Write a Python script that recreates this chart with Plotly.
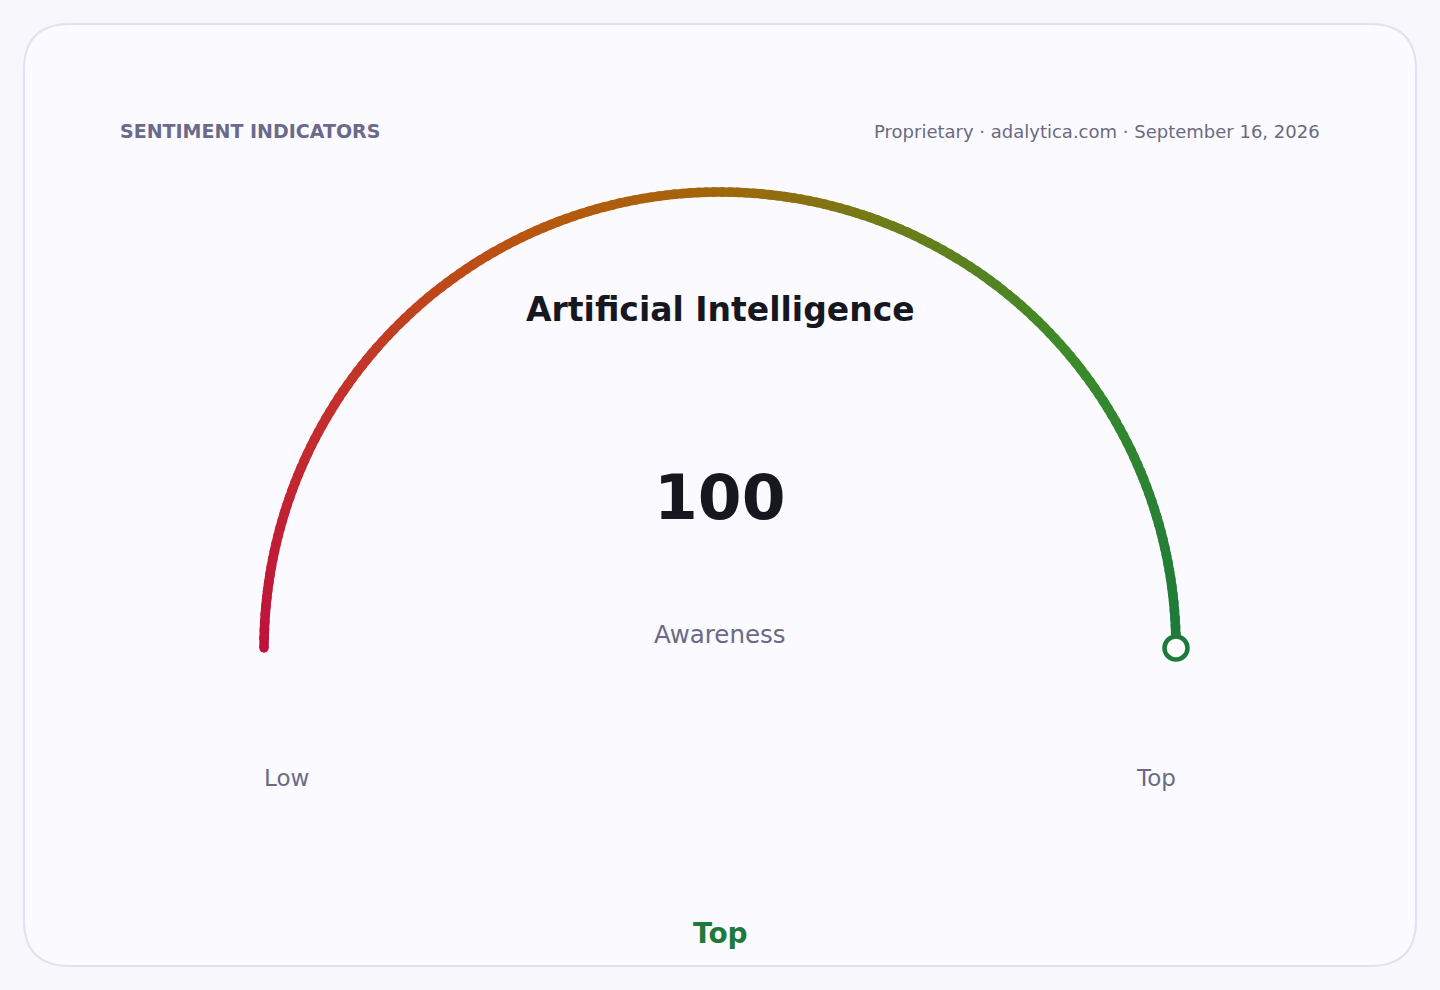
import numpy as np
import plotly.graph_objects as go

# Gauge data
title = 'Artificial Intelligence'
metric = 'Awareness'
value = 100
scale_min = 0
scale_max = 100
min_label = 'Low'
max_label = 'Top'
status = 'Top'
header_left = 'SENTIMENT INDICATORS'
header_right = 'Proprietary · adalytica.com · September 16, 2026'

# Gradient stops along the arc (fraction, colour)
grad_pos = [0.0, 0.18, 0.36, 0.5, 0.62, 0.78, 1.0]
grad_col = ['#be123c', '#c4302c', '#b9560f', '#a2660b', '#6e7c19', '#3b8a2a', '#1b7a3b']

W, H = 1440, 990
cx, cy, R = 720, 648, 456
FONT = 'DejaVu Sans'


def hex_rgb(h):
    h = h.lstrip('#')
    return np.array([int(h[i:i + 2], 16) for i in (0, 2, 4)], dtype=float)


def grad_at(t):
    rgbs = np.array([hex_rgb(c) for c in grad_col])
    r = [np.interp(t, grad_pos, rgbs[:, k]) for k in range(3)]
    return 'rgb(%d,%d,%d)' % tuple(int(round(v)) for v in r)


def to_xy(v):
    th = np.pi * (1 - (v - scale_min) / (scale_max - scale_min))
    return cx + R * np.cos(th), cy - R * np.sin(th)


fig = go.Figure()

# card background
r = 46
x0, y0, x1, y1 = 24, 24, 1416, 966
card = (f'M {x0 + r},{y0} L {x1 - r},{y0} Q {x1},{y0} {x1},{y0 + r} '
        f'L {x1},{y1 - r} Q {x1},{y1} {x1 - r},{y1} L {x0 + r},{y1} '
        f'Q {x0},{y1} {x0},{y1 - r} L {x0},{y0 + r} Q {x0},{y0} {x0 + r},{y0} Z')
fig.add_shape(type='path', path=card, xref='x', yref='y',
              fillcolor='#fafaff', line=dict(color='#e2e1ef', width=2),
              layer='below')

# gradient arc, drawn as short segments
n = 180
edges = np.linspace(scale_min, scale_max, n + 1)
for i in range(n):
    vs = np.linspace(edges[i], edges[i + 1] + (0.3 if i < n - 1 else 0), 4)
    xs, ys = to_xy(vs)
    t = (edges[i] + edges[i + 1]) / 2 / (scale_max - scale_min)
    fig.add_trace(go.Scatter(x=xs, y=ys, mode='lines',
                             line=dict(color=grad_at(t), width=9.5),
                             hoverinfo='skip', showlegend=False))

# round cap at start
sx, sy = to_xy(np.array([scale_min]))
fig.add_trace(go.Scatter(x=sx, y=sy, mode='markers',
                         marker=dict(size=9.5, color=grad_col[0]),
                         hoverinfo='skip', showlegend=False))

# value marker
vx, vy = to_xy(np.array([value]))
fig.add_trace(go.Scatter(x=vx, y=vy, mode='markers',
                         marker=dict(size=23, color='#ffffff',
                                     line=dict(color='#1e7a3a', width=4.5)),
                         hoverinfo='skip', showlegend=False))

lo_x = float(to_xy(np.array([scale_min]))[0][0])
hi_x = float(to_xy(np.array([scale_max]))[0][0])
ann = [
    dict(x=118, y=131, text=f'<b>{header_left}</b>', xanchor='left',
         font=dict(size=19, color='#6b6a8a')),
    dict(x=1322, y=131, text=header_right, xanchor='right',
         font=dict(size=18, color='#6a6a80')),
    dict(x=cx, y=309, text=f'<b>{title}</b>',
         font=dict(size=33, color='#17171f')),
    dict(x=cx, y=497, text=f'<b>{value}</b>',
         font=dict(size=63, color='#17171f')),
    dict(x=cx, y=634, text=metric, font=dict(size=24.5, color='#6a6a85')),
    dict(x=lo_x - 2, y=778, text=min_label,
         xanchor='left', font=dict(size=23, color='#6a6a85')),
    dict(x=hi_x + 2, y=778, text=max_label,
         xanchor='right', font=dict(size=23, color='#6a6a85')),
    dict(x=cx, y=933, text=f'<b>{status}</b>',
         font=dict(size=28, color='#1e7a3a')),
]
for a in ann:
    a.update(xref='x', yref='y', showarrow=False, yanchor='middle')
    a.setdefault('xanchor', 'center')
    a['font'].setdefault('family', FONT)
fig.update_layout(annotations=ann)

fig.update_layout(
    width=W, height=H,
    margin=dict(l=0, r=0, t=0, b=0),
    paper_bgcolor='#f7f7fc',
    plot_bgcolor='rgba(0,0,0,0)',
    xaxis=dict(range=[0, W], visible=False, fixedrange=True),
    yaxis=dict(range=[H, 0], visible=False, fixedrange=True),
    font=dict(family=FONT),
)

fig.write_html('out.html', config={'displayModeBar': False},
               post_script="document.body.style.margin='0';"
                           "document.body.style.overflow='hidden';")
